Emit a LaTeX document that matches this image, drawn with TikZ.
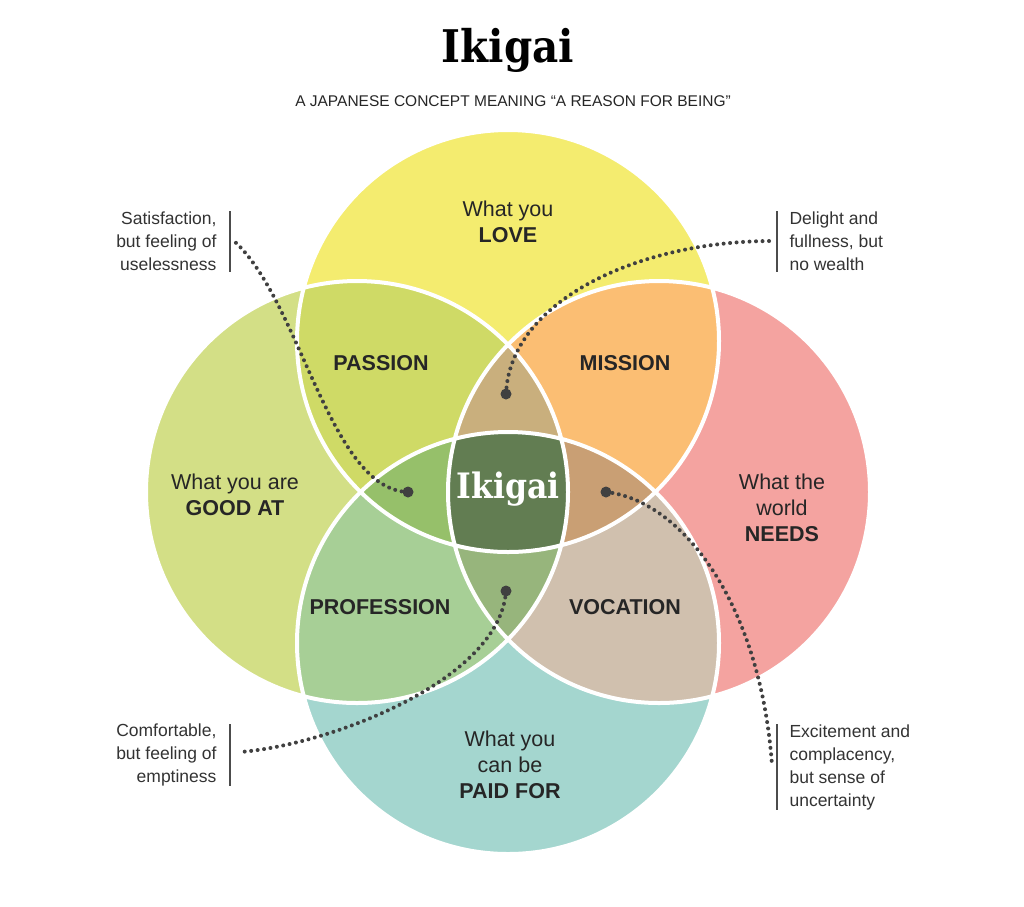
\documentclass[tikz,border=0pt]{standalone}
\usepackage{fontspec}
\setmainfont{Liberation Sans}
\newfontfamily\slab{DejaVu Serif Condensed}
\begin{document}
\begin{tikzpicture}[x=1pt,y=-1pt,
  lbl/.style={align=center,font=\fontsize{21.5}{26}\selectfont,text=black!85},
  reg/.style={font=\fontsize{21.5}{25}\selectfont\bfseries,text=black!85},
  side/.style={font=\fontsize{17.5}{23}\selectfont,text=black!80},
  dots/.style={draw=black!75,line width=4pt,line cap=round,dash pattern=on 0pt off 6.5pt},
  bar/.style={draw=black!70,line width=2pt}]
\useasboundingbox (0,0) rectangle (1024,906);
\fill[white] (0,0) rectangle (1024,906);
\def\R{211}
\coordinate (T) at (508,341);\coordinate (B) at (508,643);
\coordinate (L) at (357,492);\coordinate (Rc) at (659,492);
\def\cT{(T) circle (\R)}\def\cB{(B) circle (\R)}
\def\cL{(L) circle (\R)}\def\cR{(Rc) circle (\R)}
\fill[fill={rgb,255:red,244;green,236;blue,111}] \cT;
\fill[fill={rgb,255:red,211;green,223;blue,134}] \cL;
\fill[fill={rgb,255:red,244;green,163;blue,160}] \cR;
\fill[fill={rgb,255:red,164;green,214;blue,207}] \cB;
\begin{scope}\clip \cT; \fill[fill={rgb,255:red,207;green,218;blue,102}] \cL; \fill[fill={rgb,255:red,251;green,190;blue,115}] \cR;\end{scope}
\begin{scope}\clip \cB; \fill[fill={rgb,255:red,167;green,207;blue,150}] \cL; \fill[fill={rgb,255:red,208;green,192;blue,174}] \cR;\end{scope}
\begin{scope}\clip \cT;\clip \cL; \fill[fill={rgb,255:red,201;green,175;blue,125}] \cR; \fill[fill={rgb,255:red,150;green,192;blue,106}] \cB;\end{scope}
\begin{scope}\clip \cB;\clip \cR; \fill[fill={rgb,255:red,201;green,159;blue,116}] \cT; \fill[fill={rgb,255:red,151;green,181;blue,124}] \cL;\end{scope}
\begin{scope}\clip \cT;\clip \cL;\clip \cB; \fill[fill={rgb,255:red,98;green,125;blue,82}] \cR;\end{scope}
\draw[white,line width=4pt] \cT \cL \cR \cB;
% titles
\node[font=\slab\fontsize{45}{50}\selectfont\bfseries] (title) at (508,50) {Ikigai};
\node[font=\fontsize{15.5}{18}\selectfont,text=black!85] (sub) at (513,101) {A JAPANESE CONCEPT MEANING “A REASON FOR BEING”};
\node[lbl] (love) at (508,222) {What you\\\textbf{LOVE}};
\node[lbl] (good) at (235,495) {What you are\\\textbf{GOOD AT}};
\node[lbl] (needs) at (782,508) {What the\\world\\\textbf{NEEDS}};
\node[lbl] (paid) at (510,765) {What you\\can be\\\textbf{PAID FOR}};
\node[reg] (passion) at (381,363) {PASSION};
\node[reg] (mission) at (625,363) {MISSION};
\node[reg] (prof) at (380,607) {PROFESSION};
\node[reg] (voc) at (625,607) {VOCATION};
\node[font=\slab\fontsize{35}{40}\selectfont\bfseries,text=white] (ik) at (508,489) {Ikigai};
% side labels
\node[side,align=right,anchor=east] (s1) at (220,241) {Satisfaction,\\but feeling of\\uselessness};
\node[side,align=left,anchor=west] (s2) at (786,241) {Delight and\\fullness, but\\no wealth};
\node[side,align=right,anchor=east] (s3) at (220,755) {Comfortable,\\but feeling of\\emptiness};
\node[side,align=left,anchor=west] (s4) at (786,767) {Excitement and\\complacency,\\but sense of\\uncertainty};
\draw[bar] (230,211)--(230,272);\draw[bar] (777,211)--(777,272);
\draw[bar] (230,724)--(230,786);\draw[bar] (777,724)--(777,810);
% dots
\coordinate (d1) at (408,492);\coordinate (d2) at (506,394);
\coordinate (d3) at (606,492);\coordinate (d4) at (506,591);
\coordinate (e1) at (234,241);\coordinate (e2) at (772,241);
\coordinate (e3) at (240,752);\coordinate (e4) at (772,765);
\draw[dots] (d1) .. controls (330,490) and (300,300) .. (e1);
\draw[dots] (d2) .. controls (510,300) and (640,241) .. (e2);
\draw[dots] (d3) .. controls (680,500) and (760,600) .. (e4);
\draw[dots] (d4) .. controls (500,680) and (330,745) .. (e3);
\foreach \p in {d1,d2,d3,d4} \fill[black!75] (\p) circle (5.5);
\end{tikzpicture}
\end{document}
